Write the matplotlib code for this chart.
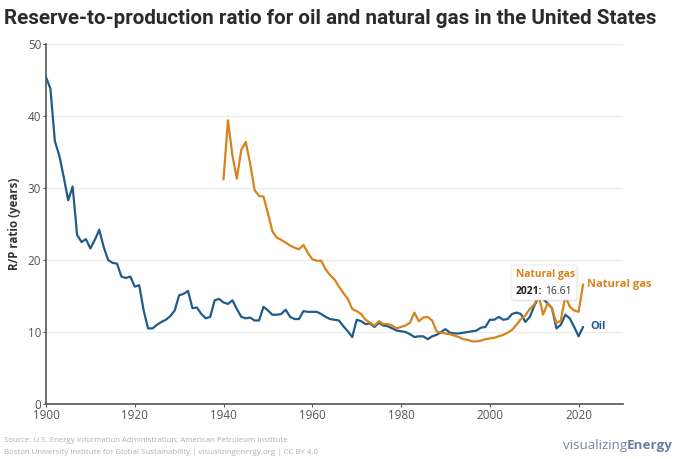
import matplotlib
matplotlib.use("Agg")
import matplotlib.pyplot as plt
from matplotlib.patches import FancyBboxPatch
from matplotlib import font_manager

oil_years = list(range(1900, 2022))
oil_values = [
    45.4, 43.8, 36.5, 34.5, 31.5, 28.3, 30.2, 23.5, 22.5, 22.9,
    21.6, 22.8, 24.2, 21.8, 20.0, 19.6, 19.5, 17.7, 17.5, 17.7,
    16.3, 16.5, 13.0, 10.5, 10.5, 11.0, 11.4, 11.7, 12.2, 13.0,
    15.1, 15.3, 15.7, 13.3, 13.4, 12.5, 11.9, 12.1, 14.4, 14.6,
    14.1, 13.9, 14.4, 13.2, 12.1, 11.9, 12.0, 11.6, 11.6, 13.5,
    13.0, 12.4, 12.4, 12.5, 13.1, 12.1, 11.8, 11.8, 12.9, 12.8,
    12.8, 12.8, 12.5, 12.1, 11.8, 11.7, 11.6, 10.8, 10.1, 9.3,
    11.7, 11.5, 11.1, 11.2, 10.7, 11.3, 10.9, 10.8, 10.5, 10.2,
    10.1, 10.0, 9.7, 9.3, 9.4, 9.4, 9.0, 9.4, 9.6, 10.0,
    10.4, 9.9, 9.8, 9.8, 9.9, 10.0, 10.1, 10.2, 10.6, 10.7,
    11.7, 11.7, 12.1, 11.7, 11.8, 12.5, 12.7, 12.5, 11.4, 12.1,
    13.6, 14.9, 14.6, 14.0, 13.3, 10.5, 11.0, 12.4, 11.9, 10.7,
    9.4, 10.7,
]

gas_years = list(range(1940, 2022))
gas_values = [
    31.2, 39.4, 34.5, 31.3, 35.3, 36.4, 33.4, 29.7, 28.9, 28.8,
    26.5, 24.0, 23.1, 22.8, 22.4, 22.0, 21.7, 21.5, 22.1, 21.0,
    20.1, 19.9, 19.9, 18.7, 17.9, 17.3, 16.3, 15.4, 14.6, 13.2,
    12.9, 12.5, 11.7, 11.3, 10.9, 11.5, 11.1, 11.1, 10.9, 10.5,
    10.7, 10.9, 11.3, 12.7, 11.5, 12.0, 12.1, 11.6, 10.1, 9.9,
    9.8, 9.7, 9.5, 9.3, 9.0, 8.9, 8.7, 8.7, 8.8, 9.0,
    9.1, 9.2, 9.4, 9.6, 9.9, 10.3, 11.0, 11.8, 12.3, 13.2,
    13.8, 15.1, 12.4, 14.0, 13.3, 11.2, 11.6, 15.0, 13.5, 13.0,
    12.8, 16.61,
]

x_ticks = [1900, 1920, 1940, 1960, 1980, 2000, 2020]
y_ticks = [0, 10, 20, 30, 40, 50]

OIL = "#1f5c8a"
GAS = "#d9821a"
TXT = "#333333"
TICK = "#555555"

names = {f.name for f in font_manager.fontManager.ttflist}
title_family = "Liberation Sans Narrow" if "Liberation Sans Narrow" in names else "Roboto"

fig = plt.figure(figsize=(6.8, 4.59), dpi=100)
ax = fig.add_axes([46/680, 1-404/459, (623-46)/680, (404-44)/459])

ax.plot(oil_years, oil_values, color=OIL, lw=1.6, solid_joinstyle="round", solid_capstyle="round", zorder=3)
ax.plot(gas_years, gas_values, color=GAS, lw=1.6, solid_joinstyle="round", solid_capstyle="round", zorder=3)

ax.set_xlim(1900, 2030)
ax.set_ylim(0, 50)
ax.set_xticks(x_ticks)
ax.set_yticks(y_ticks)
ax.grid(axis="y", color="#ebebeb", lw=0.9, zorder=0)
ax.set_axisbelow(True)
for s in ["top", "right"]:
    ax.spines[s].set_visible(False)
for s in ["left", "bottom"]:
    ax.spines[s].set_color("#555555")
    ax.spines[s].set_linewidth(1.2)
ax.tick_params(axis="both", labelsize=8.4, labelcolor=TICK, color="#555555", length=2.5, width=0.8, pad=1)
for lab in ax.get_xticklabels() + ax.get_yticklabels():
    lab.set_family("Open Sans")
ax.set_ylabel("R/P ratio (years)", fontsize=8.3, fontweight="bold", color=TXT, family="Open Sans", labelpad=5)

# End labels
ax.annotate("Oil", xy=(oil_years[-1], oil_values[-1]), xytext=(5, 0), textcoords="offset points",
            color=OIL, fontsize=8, fontweight="bold", va="center", family="Open Sans")
ax.annotate("Natural gas", xy=(gas_years[-1], gas_values[-1]), xytext=(3, 0), textcoords="offset points",
            color=GAS, fontsize=8, fontweight="bold", va="center", family="Open Sans")

# Tooltip
tx0, ty0, tw, th = 511/680, 1-300/459, 66/680, 35/459
shadow = FancyBboxPatch((tx0+0.002, ty0-0.004), tw, th, boxstyle="round,pad=0,rounding_size=0.004",
                        transform=fig.transFigure, facecolor="#000000", alpha=0.07, edgecolor="none", zorder=9)
fig.patches.append(shadow)
box = FancyBboxPatch((tx0, ty0), tw, th, boxstyle="round,pad=0,rounding_size=0.004",
                     transform=fig.transFigure, facecolor="white", edgecolor="#e6e6e6", lw=0.6, zorder=10)
fig.patches.append(box)
fig.text(516/680, 1-275/459, "Natural gas", color=GAS, fontsize=7.4, fontweight="bold", va="center", family="Open Sans", zorder=11)
yr = fig.text(516/680, 1-291/459, "2021:", color="#222222", fontsize=7.4, fontweight="bold", va="center", family="Open Sans", zorder=11)

fig.canvas.draw()
r = fig.canvas.get_renderer()
b = yr.get_window_extent(r)
fig.text((b.x1 + 3)/680, 1-291/459, "16.61", color="#333333", fontsize=7.4, va="center", family="Open Sans", zorder=11)

# Title, fit to width
title = fig.text(4/680, 1-18/459, "Reserve-to-production ratio for oil and natural gas in the United States",
                 fontsize=15.5, fontweight="bold", color="#2b2b2b", family=title_family, va="center")
w = title.get_window_extent(r).width
title.set_fontsize(15.5 * 654 / w)

# Footer
fig.text(4/680, 1-441/459, "Source: U.S. Energy Information Administration; American Petroleum Institute",
         fontsize=5.7, color="#b0b0b0", va="center", family="Open Sans")
fig.text(4/680, 1-452/459, "Boston University Institute for Global Sustainability | visualizingenergy.org | CC BY 4.0",
         fontsize=5.7, color="#b0b0b0", va="center", family="Open Sans")
t1 = fig.text(563/680, 1-446/459, "visualizing", fontsize=9.3, color="#7487a8", va="center", family="Open Sans")
b1 = t1.get_window_extent(r)
t2 = fig.text(b1.x1/680, 1-446/459, "Energy", fontsize=9.3, color="#6a7fa3", fontweight="bold", va="center", family="Open Sans")
b2 = t2.get_window_extent(r)
scale = (673 - 563) / (b2.x1 - b1.x0)
t1.set_fontsize(9.3 * scale)
t2.set_fontsize(9.3 * scale)
b1 = t1.get_window_extent(r)
t2.set_x(b1.x1/680)

fig.savefig("out.png", dpi=100)
